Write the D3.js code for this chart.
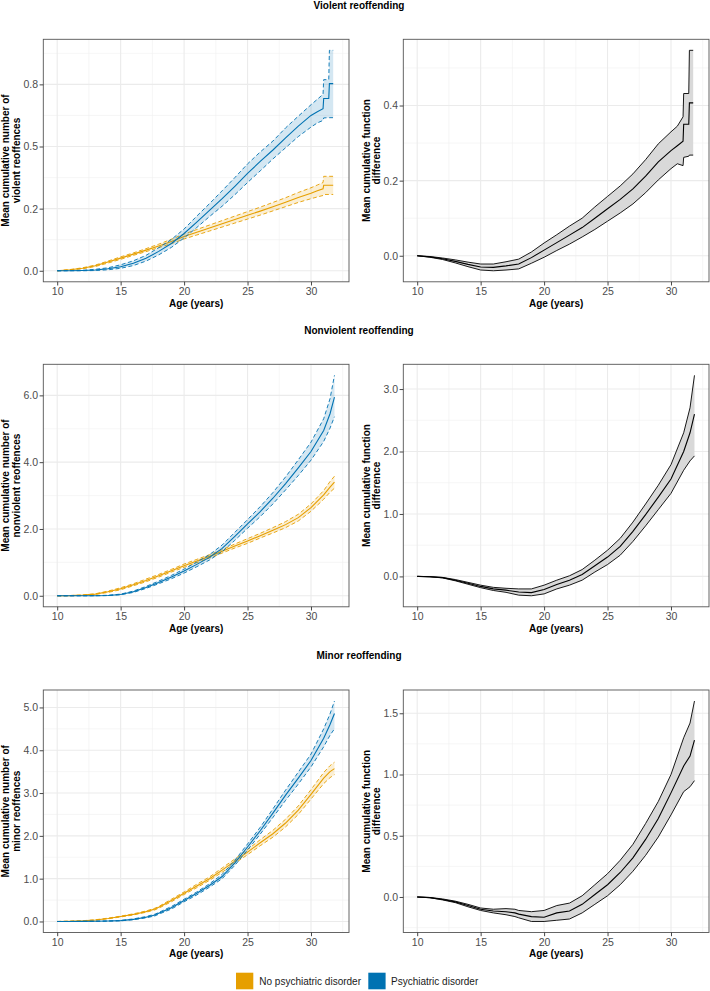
<!DOCTYPE html>
<html><head><meta charset="utf-8">
<script src="https://cdn.jsdelivr.net/npm/d3@7"></script>
<style>body{margin:0;background:#fff}svg{display:block;font-family:"Liberation Sans",Arial,sans-serif}</style>
</head><body>
<script>
// ---------- DATA ----------
const rowTitles = ["Violent reoffending", "Nonviolent reoffending", "Minor reoffending"];
const leftTitles = [["Mean cumulative number of", "violent reoffences"], ["Mean cumulative number of", "nonviolent reoffences"], ["Mean cumulative number of", "minor reoffences"]];
const rightTitle = ["Mean cumulative function", "difference"];
const xTitle = "Age (years)";
const legendLabels = ["No psychiatric disorder", "Psychiatric disorder"];
const xTickVals = [10, 15, 20, 25, 30];
const xMinorVals = [12.5, 17.5, 22.5, 27.5, 32.5];

// Violent
const agesV = [10,11,12,13,14,15,16,17,18,19,20,21,22,23,24,25,26,27,28,29,30,30.5,30.95,31.0,31.4,31.45,31.75];
const noV_mean = [0,0.004,0.01,0.02,0.035,0.051,0.067,0.083,0.1,0.118,0.138,0.155,0.172,0.189,0.206,0.223,0.24,0.258,0.276,0.295,0.312,0.322,0.33,0.344,0.344,0.344,0.344];
const noV_up   = [0,0.005,0.012,0.023,0.039,0.056,0.072,0.089,0.107,0.127,0.148,0.166,0.184,0.202,0.22,0.238,0.256,0.275,0.294,0.315,0.334,0.345,0.355,0.38,0.38,0.38,0.38];
const noV_lo   = [0,0.003,0.008,0.017,0.031,0.046,0.062,0.077,0.093,0.109,0.128,0.144,0.16,0.176,0.192,0.208,0.224,0.241,0.258,0.275,0.29,0.297,0.303,0.307,0.307,0.307,0.307];
const psV_mean = [0,0,0.001,0.003,0.008,0.016,0.03,0.05,0.078,0.11,0.15,0.196,0.243,0.29,0.34,0.392,0.44,0.486,0.535,0.582,0.625,0.64,0.652,0.693,0.693,0.753,0.753];
const psV_up   = [0,0.001,0.002,0.006,0.012,0.024,0.04,0.062,0.093,0.126,0.168,0.22,0.27,0.322,0.375,0.43,0.478,0.522,0.575,0.622,0.668,0.69,0.71,0.769,0.769,0.887,0.887];
const psV_lo   = [0,0,0,0.001,0.004,0.01,0.021,0.039,0.064,0.094,0.132,0.174,0.218,0.26,0.306,0.355,0.402,0.45,0.495,0.54,0.578,0.595,0.605,0.615,0.616,0.616,0.616];
const dV_mean  = [0,-0.003,-0.008,-0.015,-0.023,-0.03,-0.031,-0.027,-0.022,-0.005,0.015,0.035,0.055,0.075,0.1,0.125,0.15,0.178,0.212,0.25,0.28,0.293,0.305,0.35,0.35,0.407,0.407];
const dV_up    = [0,-0.002,-0.006,-0.011,-0.017,-0.022,-0.022,-0.016,-0.009,0.01,0.034,0.056,0.079,0.1,0.13,0.158,0.186,0.218,0.256,0.298,0.33,0.345,0.37,0.432,0.432,0.547,0.547];
const dV_lo    = [0,-0.004,-0.01,-0.019,-0.029,-0.038,-0.04,-0.038,-0.035,-0.02,-0.004,0.014,0.031,0.05,0.07,0.092,0.114,0.138,0.168,0.202,0.232,0.245,0.24,0.262,0.265,0.268,0.268];

// Nonviolent
const agesNV = [10,11,12,13,14,15,16,17,18,19,20,21,22,23,24,25,26,27,28,29,30,31,31.5,31.85];
const noNV_mean = [0,0.005,0.02,0.05,0.12,0.21,0.33,0.46,0.6,0.75,0.9,1.04,1.18,1.33,1.49,1.64,1.8,1.96,2.13,2.34,2.64,3.02,3.25,3.4];
const noNV_up   = [0,0.007,0.025,0.06,0.14,0.24,0.36,0.5,0.64,0.79,0.95,1.09,1.23,1.38,1.55,1.71,1.87,2.04,2.22,2.44,2.75,3.15,3.42,3.58];
const noNV_lo   = [0,0.003,0.015,0.04,0.1,0.18,0.3,0.42,0.56,0.71,0.85,0.99,1.13,1.28,1.43,1.57,1.73,1.88,2.04,2.24,2.53,2.89,3.1,3.22];
const psNV_mean = [0,0,0.001,0.003,0.01,0.04,0.12,0.25,0.4,0.56,0.74,0.94,1.15,1.42,1.78,2.15,2.52,2.92,3.36,3.83,4.32,4.95,5.45,5.95];
const psNV_up   = [0,0.001,0.002,0.005,0.015,0.05,0.14,0.28,0.44,0.61,0.8,1.01,1.23,1.52,1.9,2.28,2.67,3.09,3.56,4.07,4.6,5.3,5.9,6.6];
const psNV_lo   = [0,0,0,0.001,0.006,0.03,0.1,0.22,0.36,0.51,0.68,0.87,1.07,1.32,1.66,2.02,2.37,2.75,3.17,3.6,4.06,4.62,5.02,5.36];
const dNV_mean  = [0,-0.005,-0.02,-0.06,-0.11,-0.16,-0.2,-0.22,-0.25,-0.26,-0.21,-0.13,-0.06,0.03,0.17,0.31,0.48,0.72,0.99,1.27,1.56,2.0,2.3,2.6];
const dNV_up    = [0,-0.004,-0.016,-0.05,-0.095,-0.14,-0.175,-0.19,-0.2,-0.2,-0.14,-0.06,0.01,0.11,0.26,0.42,0.61,0.87,1.16,1.46,1.79,2.3,2.7,3.22];
const dNV_lo    = [0,-0.006,-0.024,-0.07,-0.125,-0.18,-0.225,-0.255,-0.3,-0.31,-0.28,-0.2,-0.14,-0.06,0.07,0.19,0.34,0.56,0.81,1.07,1.33,1.7,1.85,1.93];

// Minor
const agesM = [10,11,12,13,14,15,16,17,17.7,18,19,20,21,22,23,24,25,26,27,28,29,30,31,31.5,31.85];
const noM_mean = [0,0.005,0.015,0.035,0.07,0.115,0.165,0.23,0.29,0.33,0.49,0.66,0.83,1.0,1.2,1.41,1.62,1.84,2.05,2.3,2.6,2.97,3.35,3.5,3.57];
const noM_up   = [0,0.006,0.018,0.04,0.078,0.125,0.178,0.245,0.31,0.35,0.52,0.69,0.87,1.04,1.25,1.46,1.68,1.91,2.13,2.39,2.7,3.08,3.48,3.64,3.72];
const noM_lo   = [0,0.004,0.012,0.03,0.062,0.105,0.152,0.215,0.27,0.31,0.46,0.63,0.79,0.96,1.15,1.36,1.56,1.77,1.97,2.21,2.5,2.86,3.22,3.36,3.43];
const psM_mean = [0,0,0.002,0.005,0.01,0.02,0.05,0.1,0.15,0.19,0.32,0.49,0.66,0.84,1.05,1.37,1.74,2.12,2.53,2.95,3.35,3.76,4.28,4.6,4.86];
const psM_up   = [0,0.001,0.003,0.007,0.013,0.025,0.06,0.115,0.17,0.21,0.35,0.52,0.69,0.88,1.1,1.43,1.81,2.2,2.63,3.07,3.49,3.91,4.5,4.85,5.15];
const psM_lo   = [0,0,0.001,0.003,0.007,0.015,0.04,0.085,0.13,0.17,0.29,0.46,0.62,0.8,1.0,1.31,1.67,2.04,2.43,2.83,3.21,3.61,4.08,4.35,4.5];
const dM_mean  = [0,-0.005,-0.02,-0.04,-0.07,-0.1,-0.115,-0.12,-0.13,-0.14,-0.16,-0.165,-0.13,-0.115,-0.06,0.02,0.1,0.2,0.32,0.47,0.64,0.85,1.07,1.15,1.28];
const dM_up    = [0,-0.004,-0.016,-0.034,-0.06,-0.09,-0.1,-0.095,-0.1,-0.11,-0.12,-0.11,-0.07,-0.05,0.01,0.1,0.19,0.3,0.43,0.6,0.78,1.0,1.3,1.42,1.6];
const dM_lo    = [0,-0.006,-0.024,-0.046,-0.08,-0.11,-0.13,-0.145,-0.16,-0.17,-0.2,-0.2,-0.19,-0.18,-0.13,-0.06,0.01,0.1,0.21,0.34,0.49,0.67,0.86,0.9,0.95];

// Y axis ticks / labels per panel
const yTicksGroup = [[0,0.25,0.5,0.75],[0,2,4,6],[0,1,2,3,4,5]];
const yLabelsGroup = [["0.0","0.2","0.5","0.8"],["0.0","2.0","4.0","6.0"],["0.0","1.0","2.0","3.0","4.0","5.0"]];
const yMinorGroup = [[0.125,0.375,0.625,0.875],[1,3,5],[0.5,1.5,2.5,3.5,4.5]];
const yTicksDiff = [[0,0.2,0.4],[0,1,2,3],[0,0.5,1,1.5]];
const yLabelsDiff = [["0.0","0.2","0.4"],["0.0","1.0","2.0","3.0"],["0.0","0.5","1.0","1.5"]];
const yMinorDiff = [[0.1,0.3,0.5],[0.5,1.5,2.5],[-0.25,0.25,0.75,1.25]];

// ---------- DRAW ----------
const W = 710, H = 991;
const colNo = "#E69F00", colPs = "#0072B2";
const svg = d3.select("body").append("svg").attr("width", W).attr("height", H);

const rows = [
  {top: 39.3, ages: agesV, no: [noV_mean,noV_up,noV_lo], ps: [psV_mean,psV_up,psV_lo], d: [dV_mean,dV_up,dV_lo]},
  {top: 364.3, ages: agesNV, no: [noNV_mean,noNV_up,noNV_lo], ps: [psNV_mean,psNV_up,psNV_lo], d: [dNV_mean,dNV_up,dNV_lo]},
  {top: 690, ages: agesM, no: [noM_mean,noM_up,noM_lo], ps: [psM_mean,psM_up,psM_lo], d: [dM_mean,dM_up,dM_lo]}
];
const panelH = 242.5;
const colsX = [[43.3, 349], [403.3, 709]];

function expandDomain(arrs) {
  const lo = d3.min(arrs, a => d3.min(a)), hi = d3.max(arrs, a => d3.max(a));
  const pad = (hi - lo) * 0.05;
  return [lo - pad, hi + pad];
}

function drawPanel(x0, x1, y0, y1, ages, series, ticks, labels, minor, ytitle, isDiff) {
  const x = d3.scaleLinear().domain([8.905, 32.995]).range([x0, x1]);
  const allVals = [];
  series.forEach(s => { allVals.push(s.up, s.lo); });
  const y = d3.scaleLinear().domain(expandDomain(allVals)).range([y1, y0]);
  const g = svg.append("g");
  // grid
  g.selectAll(".mnx").data(xMinorVals.filter(v => x(v) > x0 && x(v) < x1)).enter().append("line")
    .attr("x1", d => x(d)).attr("x2", d => x(d)).attr("y1", y0).attr("y2", y1)
    .attr("stroke", "#f0f0f0").attr("stroke-width", 0.6);
  g.selectAll(".mny").data(minor.filter(v => y(v) > y0 && y(v) < y1)).enter().append("line")
    .attr("y1", d => y(d)).attr("y2", d => y(d)).attr("x1", x0).attr("x2", x1)
    .attr("stroke", "#f0f0f0").attr("stroke-width", 0.6);
  g.selectAll(".mjx").data(xTickVals).enter().append("line")
    .attr("x1", d => x(d)).attr("x2", d => x(d)).attr("y1", y0).attr("y2", y1)
    .attr("stroke", "#ebebeb").attr("stroke-width", 1.1);
  g.selectAll(".mjy").data(ticks).enter().append("line")
    .attr("y1", d => y(d)).attr("y2", d => y(d)).attr("x1", x0).attr("x2", x1)
    .attr("stroke", "#ebebeb").attr("stroke-width", 1.1);

  series.forEach(s => {
    const idx = d3.range(ages.length);
    const area = d3.area().x(i => x(ages[i])).y0(i => y(s.lo[i])).y1(i => y(s.up[i]));
    g.append("path").attr("d", area(idx)).attr("fill", s.fill).attr("fill-opacity", s.fillOp);
    const line = arr => d3.line().x(i => x(ages[i])).y(i => y(arr[i]))(idx);
    [s.up, s.lo].forEach(a => g.append("path").attr("d", line(a)).attr("fill", "none")
      .attr("stroke", s.col).attr("stroke-width", 0.9).attr("stroke-dasharray", isDiff ? null : "4,2.5"));
    g.append("path").attr("d", line(s.mean)).attr("fill", "none").attr("stroke", s.col).attr("stroke-width", 1.1);
  });

  // border
  g.append("rect").attr("x", x0).attr("y", y0).attr("width", x1 - x0).attr("height", y1 - y0)
    .attr("fill", "none").attr("stroke", "#555").attr("stroke-width", 0.9);
  // axes
  const xa = d3.axisBottom(x).tickValues(xTickVals).tickSize(3.7).tickPadding(2.5).tickFormat(d3.format("d"));
  const gx = g.append("g").attr("transform", `translate(0,${y1})`).call(xa);
  const ya = d3.axisLeft(y).tickValues(ticks).tickSize(3.7).tickPadding(1.5).tickFormat((d, i) => labels[i]);
  const gy = g.append("g").attr("transform", `translate(${x0},0)`).call(ya);
  [gx, gy].forEach(a => {
    a.select(".domain").remove();
    a.selectAll(".tick line").attr("stroke", "#333").attr("stroke-width", 0.9);
    a.selectAll(".tick text").attr("fill", "#4d4d4d").style("font-size", "10.5px").style("font-family", '"Liberation Sans",Arial,sans-serif');
  });
  // titles
  g.append("text").attr("x", (x0 + x1) / 2).attr("y", y1 + 24.8).attr("text-anchor", "middle")
    .style("font-size", "10px").style("font-weight", "bold").attr("fill", "#000").text(xTitle);
  const cy = (y0 + y1) / 2;
  const bx = isDiff ? [369.5, 380] : [8.8, 19.6];
  ytitle.forEach((t, i) => {
    g.append("text").attr("transform", `translate(${bx[i]},${cy}) rotate(-90)`).attr("text-anchor", "middle")
      .style("font-size", "10px").style("font-weight", "bold").attr("fill", "#000").text(t);
  });
}

rows.forEach((r, ri) => {
  const y0 = r.top, y1 = r.top + panelH;
  svg.append("text").attr("x", 359).attr("y", y0 - 30.6).attr("text-anchor", "middle")
    .style("font-size", "10px").style("font-weight", "bold").attr("fill", "#000").text(rowTitles[ri]);
  drawPanel(colsX[0][0], colsX[0][1], y0, y1, r.ages, [
    {mean: r.no[0], up: r.no[1], lo: r.no[2], col: colNo, fill: colNo, fillOp: 0.17},
    {mean: r.ps[0], up: r.ps[1], lo: r.ps[2], col: colPs, fill: colPs, fillOp: 0.17}
  ], yTicksGroup[ri], yLabelsGroup[ri], yMinorGroup[ri], leftTitles[ri], false);
  drawPanel(colsX[1][0], colsX[1][1], y0, y1, r.ages, [
    {mean: r.d[0], up: r.d[1], lo: r.d[2], col: "#000", fill: "#d9d9d9", fillOp: 1}
  ], yTicksDiff[ri], yLabelsDiff[ri], yMinorDiff[ri], rightTitle, true);
});

// legend
const lg = svg.append("g");
const legX = [236, 368.3], legTX = [259.3, 391];
[colNo, colPs].forEach((c, i) => {
  lg.append("rect").attr("x", legX[i]).attr("y", 972.7).attr("width", 17.3).attr("height", 16.6).attr("fill", c);
  lg.append("text").attr("x", legTX[i]).attr("y", 984.6).style("font-size", "10px").attr("fill", "#1a1a1a").text(legendLabels[i]);
});
</script>
</body></html>
